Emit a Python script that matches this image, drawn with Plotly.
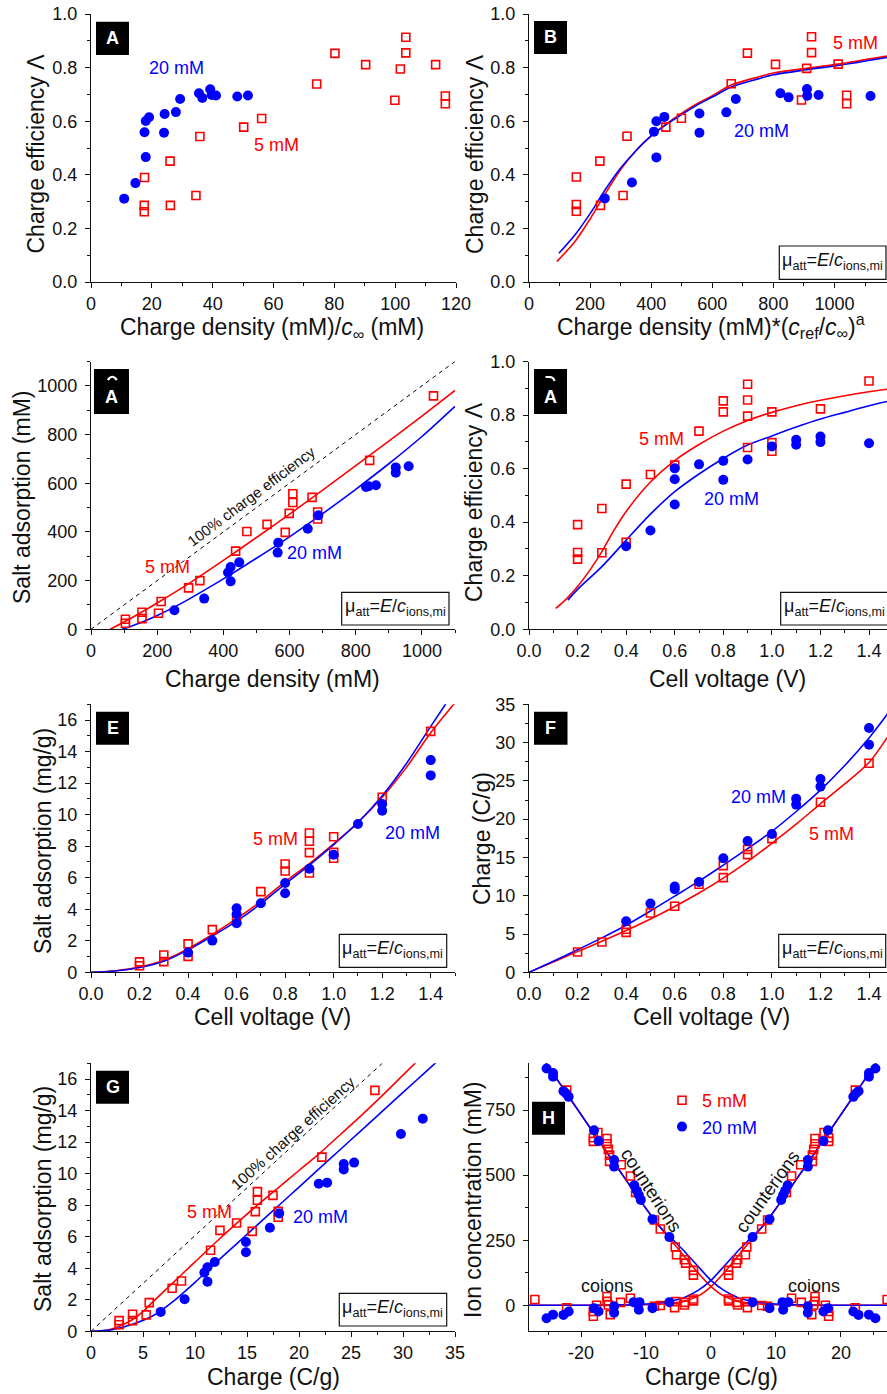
import plotly.graph_objects as go

# ---------------------------------------------------------------- data
# A: charge efficiency vs charge density / c_inf
a5_x = [17.6, 17.5, 17.5, 26.0, 26.1, 34.5, 35.8, 50.2, 56.1, 74.2, 80.2, 90.3, 99.9, 101.7, 103.5, 103.5, 113.3, 116.5, 116.5]
a5_y = [0.390, 0.286, 0.262, 0.451, 0.286, 0.323, 0.543, 0.578, 0.610, 0.739, 0.853, 0.811, 0.678, 0.795, 0.913, 0.855, 0.811, 0.694, 0.665]
a20_x = [10.9, 14.6, 17.6, 18.0, 18.0, 19.1, 24.0, 24.2, 27.9, 29.3, 35.5, 36.6, 39.2, 39.7, 41.1, 48.1, 51.6]
a20_y = [0.311, 0.369, 0.559, 0.466, 0.601, 0.615, 0.557, 0.627, 0.634, 0.683, 0.704, 0.687, 0.719, 0.698, 0.696, 0.692, 0.696]

# B: charge efficiency vs scaled charge density, with model curves
b5_x = [155, 155, 155, 232, 234, 308, 321, 448, 499, 662, 715, 807, 892, 909, 925, 925, 1012, 1040, 1040]
b5_y = [0.392, 0.289, 0.264, 0.451, 0.286, 0.323, 0.544, 0.578, 0.611, 0.740, 0.854, 0.812, 0.679, 0.797, 0.915, 0.856, 0.813, 0.697, 0.665]
b20_x = [248, 337, 409, 417, 417, 443, 558, 558, 646, 677, 823, 850, 910, 911, 948, 1118]
b20_y = [0.312, 0.371, 0.561, 0.600, 0.465, 0.616, 0.629, 0.557, 0.633, 0.683, 0.704, 0.689, 0.720, 0.695, 0.698, 0.694]
b5_fit_x = [91, 150, 200, 250, 300, 350, 400, 450, 500, 550, 600, 662, 750, 800, 909, 1012, 1172]
b5_fit_y = [0.076, 0.150, 0.235, 0.330, 0.420, 0.490, 0.545, 0.590, 0.630, 0.665, 0.695, 0.735, 0.765, 0.780, 0.797, 0.813, 0.843]
b20_fit_x = [98, 150, 200, 250, 300, 350, 400, 450, 500, 550, 600, 662, 750, 800, 909, 1012, 1172]
b20_fit_y = [0.107, 0.175, 0.255, 0.345, 0.425, 0.490, 0.545, 0.588, 0.625, 0.660, 0.690, 0.728, 0.758, 0.773, 0.792, 0.808, 0.838]

# C: salt adsorption vs charge density (mM)
c5_x = [104, 104, 154, 154, 204, 212, 295, 329, 437, 471, 532, 587, 599, 610, 610, 668, 685, 685, 842, 1035]
c5_y = [41, 25, 70, 44, 66, 114, 170, 200, 321, 402, 431, 398, 476, 557, 521, 542, 482, 453, 694, 959]
c20_x = [252, 342, 414, 422, 422, 448, 564, 566, 655, 687, 831, 839, 861, 921, 921, 960]
c20_y = [78, 126, 233, 256, 197, 275, 315, 356, 413, 468, 585, 588, 592, 665, 643, 670]
c5_fit_x = [58, 100, 150, 200, 300, 400, 500, 600, 700, 800, 900, 1000, 1100]
c5_fit_y = [0, 30, 68, 108, 192, 283, 377, 473, 572, 672, 773, 876, 981]
c20_fit_x = [94, 150, 200, 250, 300, 400, 500, 600, 700, 800, 900, 1000, 1100]
c20_fit_y = [0, 27, 57, 90, 127, 207, 292, 380, 475, 575, 680, 792, 916]
c_ideal = [0, 1100]

# D: charge efficiency vs cell voltage
d5_x = [0.2, 0.2, 0.2, 0.3, 0.3, 0.4, 0.4, 0.5, 0.6, 0.7, 0.8, 0.8, 0.9, 0.9, 0.9, 0.9, 1.0, 1.0, 1.0, 1.2, 1.4]
d5_y = [0.391, 0.287, 0.262, 0.451, 0.286, 0.542, 0.325, 0.578, 0.613, 0.740, 0.853, 0.812, 0.915, 0.856, 0.796, 0.679, 0.812, 0.697, 0.665, 0.823, 0.927]
d20_x = [0.4, 0.5, 0.6, 0.6, 0.6, 0.7, 0.8, 0.8, 0.9, 1.0, 1.1, 1.1, 1.2, 1.2, 1.4]
d20_y = [0.310, 0.369, 0.601, 0.560, 0.466, 0.616, 0.629, 0.558, 0.634, 0.683, 0.708, 0.689, 0.720, 0.699, 0.695]
d5_fit_x = [0.11, 0.15, 0.2, 0.25, 0.3, 0.35, 0.4, 0.5, 0.6, 0.7, 0.8, 0.9, 1.0, 1.1, 1.2, 1.3, 1.4, 1.48]
d5_fit_y = [0.078, 0.11, 0.16, 0.22, 0.29, 0.37, 0.44, 0.55, 0.63, 0.69, 0.74, 0.78, 0.81, 0.835, 0.855, 0.872, 0.887, 0.897]
d20_fit_x = [0.16, 0.2, 0.3, 0.4, 0.5, 0.6, 0.7, 0.8, 0.9, 1.0, 1.1, 1.2, 1.3, 1.4, 1.48]
d20_fit_y = [0.109, 0.149, 0.234, 0.333, 0.430, 0.514, 0.580, 0.638, 0.688, 0.722, 0.755, 0.785, 0.810, 0.835, 0.852]

# E: salt adsorption (mg/g) vs cell voltage
e5_x = [0.2, 0.2, 0.3, 0.3, 0.4, 0.4, 0.5, 0.6, 0.7, 0.8, 0.8, 0.9, 0.9, 0.9, 0.9, 1.0, 1.0, 1.0, 1.2, 1.4]
e5_y = [0.66, 0.42, 1.10, 0.68, 1.80, 1.01, 2.71, 3.30, 5.12, 6.87, 6.43, 8.84, 8.31, 7.59, 6.30, 8.60, 7.61, 7.23, 11.10, 15.28]
e20_x = [0.4, 0.5, 0.6, 0.6, 0.6, 0.7, 0.8, 0.8, 0.9, 1.0, 1.1, 1.2, 1.2, 1.4, 1.4]
e20_y = [1.25, 2.01, 4.06, 3.68, 3.11, 4.38, 5.66, 5.01, 6.57, 7.46, 9.41, 10.67, 10.25, 13.46, 12.49]
e_fit_x = [0, 0.1, 0.2, 0.3, 0.4, 0.5, 0.6, 0.7, 0.8, 0.9, 1.0, 1.1, 1.2, 1.3, 1.4, 1.5]
e5_fit_y = [0, 0.10, 0.33, 0.76, 1.50, 2.40, 3.40, 4.50, 5.75, 6.90, 8.15, 9.50, 11.10, 13.00, 15.20, 17.10]
e20_fit_y = [0, 0.08, 0.30, 0.70, 1.42, 2.30, 3.25, 4.35, 5.60, 6.80, 8.10, 9.50, 11.20, 13.25, 15.60, 17.90]

# F: charge (C/g) vs cell voltage
f5_x = [0.2, 0.3, 0.4, 0.4, 0.5, 0.6, 0.7, 0.8, 0.8, 0.9, 0.9, 1.0, 1.2, 1.4]
f5_y = [2.66, 3.96, 5.62, 5.22, 7.75, 8.62, 11.49, 13.93, 12.36, 16.06, 15.37, 17.46, 22.20, 27.30]
f20_x = [0.4, 0.5, 0.6, 0.6, 0.7, 0.8, 0.9, 1.0, 1.1, 1.1, 1.2, 1.2, 1.4, 1.4]
f20_y = [6.66, 8.97, 11.19, 10.84, 11.80, 14.89, 17.15, 18.07, 22.68, 21.90, 25.25, 24.25, 31.91, 29.73]
f_fit_x = [0, 0.1, 0.2, 0.3, 0.4, 0.5, 0.6, 0.7, 0.8, 0.9, 1.0, 1.1, 1.2, 1.3, 1.4, 1.48]
f5_fit_y = [0, 1.35, 2.70, 4.05, 5.45, 6.95, 8.60, 10.35, 12.30, 14.45, 16.85, 19.35, 22.00, 24.60, 27.40, 30.90]
f20_fit_y = [0, 1.45, 2.95, 4.50, 6.15, 8.00, 9.95, 11.90, 14.00, 16.15, 18.40, 21.00, 23.80, 27.00, 30.60, 33.90]

# G: salt adsorption (mg/g) vs charge (C/g)
g5_x = [2.7, 2.7, 4.0, 4.0, 5.3, 5.6, 7.8, 8.7, 11.5, 12.4, 14.0, 15.5, 15.8, 16.0, 16.0, 17.5, 18.0, 18.0, 22.2, 27.3]
g5_y = [0.68, 0.42, 1.08, 0.68, 1.04, 1.82, 2.73, 3.19, 5.14, 6.40, 6.87, 6.34, 7.59, 8.31, 8.86, 8.62, 7.61, 7.23, 11.05, 15.28]
g20_x = [6.7, 9.0, 10.9, 11.2, 11.2, 11.9, 14.9, 14.9, 17.2, 18.1, 21.9, 22.7, 24.3, 24.3, 25.3, 29.8, 31.9]
g20_y = [1.23, 2.03, 3.72, 4.06, 3.15, 4.40, 5.66, 5.01, 6.57, 7.48, 9.36, 9.43, 10.61, 10.27, 10.70, 12.51, 13.49]
g5_fit_x = [0, 1, 2, 3, 4, 5, 6, 8, 10, 12, 14, 16, 18, 20, 22, 24, 26, 28, 30, 32]
g5_fit_y = [0, 0.04, 0.15, 0.40, 0.75, 1.25, 1.90, 3.15, 4.40, 5.65, 6.85, 8.00, 9.10, 10.20, 11.30, 12.50, 13.70, 14.95, 16.25, 17.55]
g20_fit_x = [0, 2, 4, 6, 8, 10, 12, 14, 16, 18, 20, 22, 24, 26, 28, 30, 32, 34]
g20_fit_y = [0, 0.10, 0.45, 1.00, 1.95, 3.10, 4.35, 5.55, 6.75, 7.95, 9.15, 10.35, 11.55, 12.75, 13.95, 15.15, 16.35, 17.55]
g_ideal_x = [0, 28.0]
g_ideal_y = [0, 17.0]

# H: ion concentrations vs charge; each measurement is shown at +q and -q
h5_counter_q = [2.7, 2.7, 3.9, 4.1, 5.3, 5.5, 7.8, 8.7, 11.6, 12.4, 13.8, 15.6, 15.6, 15.8, 16.0, 16.0, 17.4, 18.1, 18.1, 22.2]
h5_counter_c = [134, 116, 162, 175, 194, 224, 293, 328, 434, 497, 540, 553, 577, 599, 621, 641, 664, 630, 644, 827]
h5_co_q = [2.7, 2.7, 4.0, 4.1, 5.4, 5.6, 7.8, 8.7, 12.4, 13.9, 15.5, 15.8, 16.0, 16.0, 17.6, 18.1, 18.1, 22.2, 27.1]
h5_co_c = [24, 17, 11, 1, 14, -9, -1, -4, 27, 11, -36, 1, 15, 34, 0, -42, -24, -10, 22]
h20_counter_q = [6.4, 9.0, 10.8, 11.1, 11.4, 11.8, 14.9, 14.9, 17.3, 18.0, 21.9, 22.3, 22.7, 24.3, 24.3, 25.3]
h20_counter_c = [262, 331, 405, 424, 440, 461, 558, 533, 631, 673, 801, 814, 823, 878, 893, 910]
h20_co_q = [6.4, 9.0, 11.0, 11.1, 11.5, 11.9, 14.9, 14.9, 17.3, 18.0, 21.9, 22.7, 24.3, 25.3]
h20_co_c = [12, -11, 12, -17, 9, 12, -4, -29, -24, -11, -24, -37, -36, -50]
h_fit_q = [-28, -20, -15, -12, -10, -8, -6, -4, -2, 0, 2, 4, 6, 8, 10, 12, 14, 16, 18, 20, 22, 24, 26]
h5_fit_c = [0, 0, 0, 1, 2, 4, 8, 16, 35, 72, 125, 185, 245, 305, 372, 443, 515, 587, 660, 733, 806, 880, 955]
h20_fit_c = [0, 0, 1, 3, 5, 9, 17, 31, 57, 96, 150, 205, 255, 306, 372, 443, 515, 587, 660, 733, 806, 880, 955]
h_tick_vals = [-20, -10, 0, 10, 20]
h_tick_text = ["-20", "-10", "0", "10", "20"]

# ---------------------------------------------------------------- style
W, H = 887, 1394
FONT = "Liberation Sans, Arial, Helvetica, sans-serif"
RED = "#ff0000"
BLUE = "#0000ff"
AX = "#111111"


def px(x):
    return x / W


def py(y):
    return 1 - y / H


# panel frames in pixels (left, top, right, bottom) and axis settings
PANELS = [
    dict(name="A", box=(91, 14, 456, 282), xr=[0, 120], xd=20, xm=10, xf="", yr=[0, 1.0], yd=0.2, ym=0.1, yf=".1f", right=True),
    dict(name="B", box=(529, 14, 887, 282), xr=[0, 1172], xd=200, xm=100, xf="", yr=[0, 1.0], yd=0.2, ym=0.1, yf=".1f", right=False),
    dict(name="C", box=(91, 361.5, 455, 629.3), xr=[0, 1100], xd=200, xm=100, xf="", yr=[0, 1100], yd=200, ym=100, yf="", right=True),
    dict(name="D", box=(529, 361.5, 887, 629.3), xr=[0, 1.474], xd=0.2, xm=0.1, xf=".1f", yr=[0, 1.0], yd=0.2, ym=0.1, yf=".1f", right=False),
    dict(name="E", box=(91, 704.3, 455, 972.3), xr=[0, 1.5], xd=0.2, xm=0.1, xf=".1f", yr=[0, 17], yd=2, ym=1, yf="", right=True),
    dict(name="F", box=(529, 704.3, 887, 972.3), xr=[0, 1.474], xd=0.2, xm=0.1, xf=".1f", yr=[0, 35], yd=5, ym=2.5, yf="", right=False),
    dict(name="G", box=(91, 1063.3, 455, 1331.3), xr=[0, 35], xd=5, xm=2.5, xf="", yr=[0, 17], yd=2, ym=1, yf="", right=True),
    dict(name="H", box=(529, 1063.3, 887, 1331.3), xr=[-28, 27.08], xd=10, xm=5, xf="", yr=[-100, 930], yd=250, ym=125, yf="", right=False),
]

layout = dict(
    template="none",
    width=W, height=H,
    margin=dict(l=0, r=0, t=0, b=0, pad=0, autoexpand=False),
    paper_bgcolor="white", plot_bgcolor="white",
    font=dict(family=FONT, size=18, color=AX),
    showlegend=True,
    shapes=[], annotations=[],
)


def axname(n):
    return "" if n == 1 else str(n)


for i, p in enumerate(PANELS):
    n = i + 1
    l, t, r, b = p["box"]
    dx = [px(l), px(r)]
    dy = [py(b), py(t)]
    common = dict(showgrid=False, zeroline=False, showline=True, linecolor=AX, linewidth=1.3,
                  tickcolor=AX, tickwidth=1.3, ticklen=5, automargin=False,
                  tickfont=dict(family=FONT, size=18, color=AX))
    xa = dict(
        domain=dx, range=p["xr"], anchor="y" + axname(n), ticks="outside",
        tick0=0, dtick=p["xd"], tickformat=p["xf"], ticklabelstandoff=0,
        minor=dict(ticks="outside", dtick=p["xm"], tick0=0, ticklen=3, tickwidth=1.3, tickcolor=AX),
        **common)
    if p["name"] == "H":
        xa.update(tickmode="array", tickvals=h_tick_vals, ticktext=h_tick_text)
    layout["xaxis" + axname(n)] = xa
    layout["yaxis" + axname(n)] = dict(
        domain=dy, range=p["yr"], anchor="x" + axname(n), ticks="outside",
        tick0=0, dtick=p["yd"], tickformat=p["yf"], ticklabelstandoff=4,
        minor=dict(ticks="outside", dtick=p["ym"], tick0=0, ticklen=3, tickwidth=1.3, tickcolor=AX),
        **common)
    # mirrored frame with inward ticks on top (and right when it lies inside the page)
    m = n + 8
    layout["xaxis" + str(m)] = dict(
        overlaying="x" + axname(n), anchor="y" + axname(n), side="top", range=p["xr"],
        ticks="inside", tick0=0, dtick=p["xd"], showticklabels=False,
        minor=dict(ticks="inside", dtick=p["xm"], tick0=0, ticklen=3, tickwidth=1.3, tickcolor=AX),
        **common)
    if p["right"]:
        layout["yaxis" + str(m)] = dict(
            overlaying="y" + axname(n), anchor="x" + axname(n), side="right", range=p["yr"],
            ticks="inside", tick0=0, dtick=p["yd"], showticklabels=False,
            minor=dict(ticks="inside", dtick=p["ym"], tick0=0, ticklen=3, tickwidth=1.3, tickcolor=AX),
            **common)

fig = go.Figure()


def ref(n):
    return dict(xaxis="x" + axname(n), yaxis="y" + axname(n))


def curve(n, x, y, color, dash=None, width=1.6):
    fig.add_trace(go.Scatter(x=x, y=y, mode="lines", showlegend=False, hoverinfo="skip",
                             line=dict(color=color, width=width, dash=dash, shape="spline", smoothing=0.8),
                             **ref(n)))


def squares(n, x, y, legend=False):
    fig.add_trace(go.Scatter(x=x, y=y, mode="markers", showlegend=legend,
                             name="<span style='color:#ff0000'>5 mM</span>",
                             marker=dict(symbol="square-open", size=8, color=RED, line=dict(width=1.6)),
                             **ref(n)))


def circles(n, x, y, legend=False):
    fig.add_trace(go.Scatter(x=x, y=y, mode="markers", showlegend=legend,
                             name="<span style='color:#0000ff'>20 mM</span>",
                             marker=dict(symbol="circle", size=10, color=BLUE, line=dict(width=0)),
                             **ref(n)))


def mirrored(q, v):
    return list(q) + [-z for z in q], list(v) + list(v)


# A
squares(1, a5_x, a5_y)
circles(1, a20_x, a20_y)
# B
curve(2, b5_fit_x, b5_fit_y, RED)
curve(2, b20_fit_x, b20_fit_y, BLUE)
squares(2, b5_x, b5_y)
circles(2, b20_x, b20_y)
# C
fig.add_trace(go.Scatter(x=c_ideal, y=c_ideal, mode="lines", showlegend=False, hoverinfo="skip",
                         line=dict(color="black", width=1, dash="4px,4px"), **ref(3)))
curve(3, c5_fit_x, c5_fit_y, RED)
curve(3, c20_fit_x, c20_fit_y, BLUE)
squares(3, c5_x, c5_y)
circles(3, c20_x, c20_y)
# D
curve(4, d5_fit_x, d5_fit_y, RED)
curve(4, d20_fit_x, d20_fit_y, BLUE)
squares(4, d5_x, d5_y)
circles(4, d20_x, d20_y)
# E
curve(5, e_fit_x, e5_fit_y, RED)
curve(5, e_fit_x, e20_fit_y, BLUE)
squares(5, e5_x, e5_y)
circles(5, e20_x, e20_y)
# F
curve(6, f_fit_x, f5_fit_y, RED)
curve(6, f_fit_x, f20_fit_y, BLUE)
squares(6, f5_x, f5_y)
circles(6, f20_x, f20_y)
# G
fig.add_trace(go.Scatter(x=g_ideal_x, y=g_ideal_y, mode="lines", showlegend=False, hoverinfo="skip",
                         line=dict(color="black", width=1, dash="4px,4px"), **ref(7)))
curve(7, g5_fit_x, g5_fit_y, RED)
curve(7, g20_fit_x, g20_fit_y, BLUE)
squares(7, g5_x, g5_y)
circles(7, g20_x, g20_y)
# H
curve(8, h_fit_q, h5_fit_c, RED)
curve(8, [-q for q in h_fit_q], h5_fit_c, RED)
curve(8, h_fit_q, h20_fit_c, BLUE)
curve(8, [-q for q in h_fit_q], h20_fit_c, BLUE)
hx, hy = mirrored(h5_counter_q + h5_co_q, h5_counter_c + h5_co_c)
squares(8, hx, hy, legend=True)
hx, hy = mirrored(h20_counter_q + h20_co_q, h20_counter_c + h20_co_c)
circles(8, hx, hy, legend=True)

# ---------------------------------------------------------------- decorations
ann = layout["annotations"]
shp = layout["shapes"]


def note(text, x, y, size=18, color=AX, angle=0, **kw):
    ann.append(dict(text=text, x=px(x), y=py(y), xref="paper", yref="paper", showarrow=False,
                    xanchor="center", yanchor="middle", textangle=angle,
                    font=dict(family=FONT, size=size, color=color), **kw))


def rect(x0, y0, x1, y1, fill, line=None, lw=0):
    shp.append(dict(type="rect", xref="paper", yref="paper", x0=px(x0), x1=px(x1), y0=py(y1), y1=py(y0),
                    fillcolor=fill, line=dict(color=line or fill, width=lw), layer="above"))


# panel letters
for letter, (x0, y0, x1, y1) in [("A", (96, 21.7, 129, 55)), ("B", (534, 21, 567, 54)),
                                 ("A", (94, 369, 129, 414)), ("A", (534, 369, 567, 414)),
                                 ("E", (96, 711.7, 129, 744.7)), ("F", (534, 711.7, 567.5, 744.7)),
                                 ("G", (96, 1070.7, 129, 1103.7)), ("H", (532, 1101.7, 565, 1134.7))]:
    rect(x0, y0, x1, y1, "black")
    cy = (y0 + y1) / 2 if y1 - y0 < 40 else y1 - 17
    note("<b>%s</b>" % letter, (x0 + x1) / 2, cy, size=18, color="white")

# tops of the covered letters peeking above the "A" in panels C and D
shp.append(dict(type="path", xref="paper", yref="paper", layer="above",
                path="M %f,%f Q %f,%f %f,%f" % (px(107.8), py(380), px(112.3), py(373.5), px(116.8), py(380)),
                line=dict(color="white", width=2.2)))
shp.append(dict(type="path", xref="paper", yref="paper", layer="above",
                path="M %f,%f L %f,%f Q %f,%f %f,%f" % (px(545.5), py(377), px(549.5), py(377),
                                                        px(553.5), py(377), px(554.5), py(381)),
                line=dict(color="white", width=2.2)))

# model boxes
MU = "\u03bc<sub>att</sub>=<i>E</i>/<i>c</i><sub>ions,mi</sub>"
for (x0, y0, x1, y1) in [(779.3, 246, 886, 279.3), (341.7, 592.3, 449, 625),
                         (780.7, 592.3, 892, 625), (339.3, 934.3, 446.7, 967.3),
                         (778.7, 934.3, 885.7, 967.3), (339.3, 1293.3, 446.7, 1326)]:
    rect(x0, y0, x1, y1, "white", line=AX, lw=1.2)
    note(MU, x0 + 53.5, (y0 + y1) / 2 - 1, size=18)

# series labels
note("20 mM", 176, 68, color=BLUE)
note("5 mM", 276, 145, color=RED)
note("5 mM", 855, 43, color=RED)
note("20 mM", 761, 131, color=BLUE)
note("5 mM", 167, 567, color=RED)
note("20 mM", 314, 553, color=BLUE)
note("100% charge efficiency", 251, 497, size=15, angle=-37)
note("5 mM", 661, 439, color=RED)
note("20 mM", 731, 499, color=BLUE)
note("5 mM", 275, 839, color=RED)
note("20 mM", 412, 833, color=BLUE)
note("20 mM", 758, 797, color=BLUE)
note("5 mM", 831, 834, color=RED)
note("5 mM", 209, 1212, color=RED)
note("20 mM", 320, 1217, color=BLUE)
note("100% charge efficiency", 292.5, 1133.5, size=15.5, angle=-42)
note("counterions", 652, 1190, size=18.5, angle=57)
note("counterions", 767, 1191, size=18.5, angle=-54.5)
note("coions", 607, 1286)
note("coions", 814, 1286)

# axis titles
TS = 23
note("Charge density (mM)/<i>c</i><sub>\u221e</sub> (mM)", 272, 328, size=TS)
note("Charge density (mM)*(<i>c</i><sub>ref</sub>/<i>c</i><sub>\u221e</sub>)<sup>a</sup>", 711, 326, size=TS)
note("Charge efficiency \u039b", 35.5, 154, size=TS, angle=-90)
note("Charge efficiency \u039b", 475, 154, size=TS, angle=-90)
note("Charge density (mM)", 272, 679, size=TS)
note("Salt adsorption (mM)", 22, 498, size=TS, angle=-90)
note("Cell voltage (V)", 727, 679, size=TS)
note("Charge efficiency \u039b", 474, 502, size=TS, angle=-90)
note("Cell voltage (V)", 272, 1017, size=TS)
note("Salt adsorption (mg/g)", 43, 841, size=TS, angle=-90)
note("Cell voltage (V)", 711, 1017, size=TS)
note("Charge (C/g)", 482, 839, size=TS, angle=-90)
note("Charge (C/g)", 273, 1377, size=TS)
note("Salt adsorption (mg/g)", 43, 1199, size=TS, angle=-90)
note("Charge (C/g)", 711, 1377, size=TS)
note("Ion concentration (mM)", 473, 1200, size=TS, angle=-90)

layout["legend"] = dict(x=px(662), y=py(1082), xanchor="left", yanchor="top",
                        bgcolor="rgba(0,0,0,0)", borderwidth=0, itemwidth=30,
                        font=dict(family=FONT, size=18), tracegroupgap=0)

fig.update_layout(**layout)
fig.write_html("out.html")
